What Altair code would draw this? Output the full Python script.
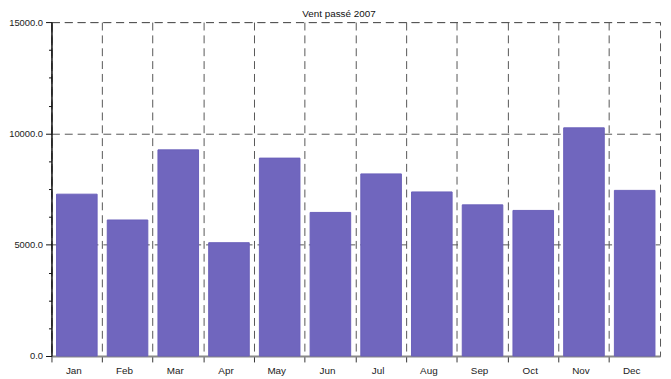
import altair as alt
import pandas as pd

months = ["Jan", "Feb", "Mar", "Apr", "May", "Jun", "Jul", "Aug", "Sep", "Oct", "Nov", "Dec"]
values = [7270, 6110, 9260, 5090, 8890, 6450, 8180, 7370, 6790, 6540, 10250, 7440]
y_ticks = [0, 1250, 2500, 3750, 5000, 6250, 7500, 8750, 10000, 11250, 12500, 13750, 15000]

df = pd.DataFrame({"month": months, "value": values})

FONT = "Arial"
major = "datum.value % 5000 === 0"

chart = alt.Chart(df).mark_bar(
    width={"band": 0.8}, color="#7066BE", stroke="#6A5FBA", strokeWidth=1
).encode(
    x=alt.X(
        "month:N", sort=months,
        scale=alt.Scale(paddingInner=0, paddingOuter=0),
        axis=alt.Axis(
            title=None, bandPosition=0, labelOffset=-3, labelAngle=0,
            grid=True, gridDash=[8, 5], gridColor="#555", gridWidth=1,
            tickSize=6, tickColor="#333", domainColor="#888", domainWidth=2,
            labelPadding=4, labelFont=FONT, labelFontSize=10, labelColor="#222",
        ),
    ),
    y=alt.Y(
        "value:Q",
        scale=alt.Scale(domain=[0, 15000], nice=False),
        axis=alt.Axis(
            title=None, values=y_ticks,
            labelExpr="datum.value % 5000 === 0 ? format(datum.value, '.1f') : ''",
            labelOverlap=False,
            tickSize={"condition": {"test": major, "value": 6}, "value": 3},
            tickColor="#111",
            grid=True, gridDash=[8, 5], gridColor="#555", gridWidth=1,
            gridOpacity={"condition": {"test": major, "value": 1}, "value": 0},
            domainColor="#111", domainWidth=1.5,
            labelPadding=3, labelFont=FONT, labelFontSize=9.5, labelColor="#222",
        ),
    ),
).properties(
    width=616, height=338,
    autosize="none",
    padding={"left": 44, "top": 12, "right": 3, "bottom": 21},
    title=alt.TitleParams("Vent passé 2007", fontSize=10, fontWeight="normal",
                          font=FONT, color="#111", offset=0, dy=2, dx=-17),
).configure_view(stroke="#555", strokeDash=[8, 5])

chart.save("out.html", embed_options={"renderer": "svg", "actions": False})
